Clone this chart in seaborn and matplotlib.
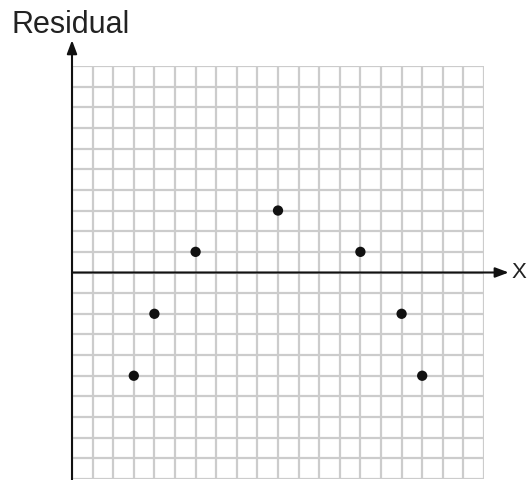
import matplotlib
matplotlib.use("Agg")
import matplotlib.pyplot as plt
import seaborn as sns
import pandas as pd

x_vals = [3, 4, 6, 10, 14, 16, 17]
residuals = [-5, -2, 1, 3, 1, -2, -5]
y_label = "Residual"
x_label = "X"

df = pd.DataFrame({"x": x_vals, "residual": residuals})

sns.set_style("white")
plt.rcParams['font.family'] = ['Liberation Sans', 'DejaVu Sans']

fig = plt.figure(figsize=(5.29, 4.80), dpi=100)
ax = fig.add_axes([72/529, 1-479/480, 412/529, 413/480])

ax.set_xlim(0, 20)
ax.set_ylim(-10, 10)
ax.set_xticks(range(0, 21))
ax.set_yticks(range(-10, 11))
ax.tick_params(length=0, labelbottom=False, labelleft=False)
ax.grid(True, color='#cccccc', linewidth=1.6)
for s in ax.spines.values():
    s.set_visible(False)
ax.set_axisbelow(True)

sns.scatterplot(data=df, x="x", y="residual", ax=ax, s=55, color='#111111',
                edgecolor='none', zorder=5, legend=False)
ax.set_xlabel("")
ax.set_ylabel("")

# axes with arrows
ax.annotate('', xy=(21.2, 0), xytext=(0, 0), xycoords='data',
            arrowprops=dict(arrowstyle='-|>,head_length=0.8,head_width=0.3',
                            color='#111111', lw=1.5, shrinkA=0, shrinkB=0),
            annotation_clip=False, zorder=6)
ax.annotate('', xy=(0, 11.25), xytext=(0, -10.2), xycoords='data',
            arrowprops=dict(arrowstyle='-|>,head_length=0.8,head_width=0.3',
                            color='#111111', lw=1.5, shrinkA=0, shrinkB=0),
            annotation_clip=False, zorder=6)

fig.text(11/529, 1-33/480, y_label, fontsize=22, color='#222222',
         ha='left', va='baseline')
fig.text(512/529, 1-272/480, x_label, fontsize=16, color='#222222',
         ha='left', va='center')

fig.savefig("out.png", dpi=100)
